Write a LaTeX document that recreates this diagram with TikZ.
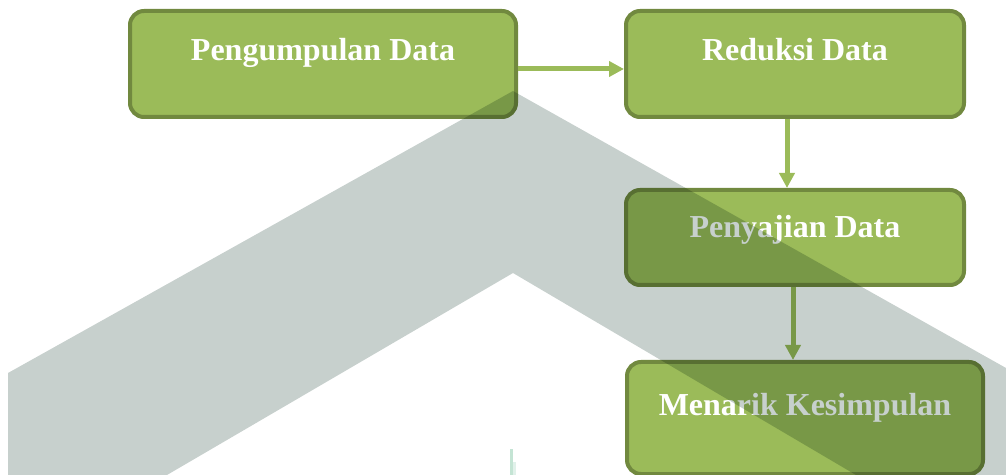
\documentclass[tikz,border=0pt]{standalone}
\usepackage{fontspec}
\setmainfont{Liberation Serif}
\usetikzlibrary{arrows.meta}
\definecolor{olive}{RGB}{155,187,89}
\definecolor{olivedark}{RGB}{113,137,63}
\definecolor{stamp}{RGB}{199,208,205}
\definecolor{stampline}{RGB}{196,228,212}
\begin{document}
\begin{tikzpicture}[x=0.5pt,y=-0.5pt,
	every node/.style={font=\bfseries\fontsize{16}{19}\selectfont,text=white},
	stagebox/.style={draw=olivedark,line width=2pt,fill=olive,rounded corners=7pt,text height=12pt,text depth=12pt},
	flow/.style={draw=olive,line width=2.5pt,-{Triangle[length=7.5pt,width=7.5pt]}}]
	\useasboundingbox (0,0) rectangle (1006,475);
	\node[stagebox,minimum width=193pt,minimum height=53pt,text depth=15pt] (kumpul) at (323,64) {Pengumpulan Data};
	\node[stagebox,minimum width=169pt,minimum height=53pt,text depth=15pt] (reduksi) at (795,64) {Reduksi Data};
	\node[stagebox,minimum width=169pt,minimum height=47.5pt] (sajian) at (795,237.5) {Penyajian Data};
	\node[stagebox,minimum width=178pt,minimum height=56pt,text depth=14.5pt] (simpul) at (805,418) {Menarik Kesimpulan};
	\draw[flow] ([yshift=-2.5pt]kumpul.east) -- ([yshift=-2.5pt]reduksi.west);
	\draw[flow] ([xshift=-4pt]reduksi.south) -- ([xshift=-4pt]sajian.north);
	\coordinate (turun) at ([xshift=-1pt]sajian.south);
	\draw[flow] (turun) -- (turun |- simpul.north);
	\begin{scope}[blend mode=multiply]
	\fill[stamp] (8,475) -- (8,373) -- (513,91) -- (1006,368) -- (1006,475) -- (856,475) -- (513,273) -- (167,475) -- cycle;
	\end{scope}
	\fill[stampline] (510,449) rectangle (513,475);
	\fill[stampline!50] (513,462) rectangle (516,475);
\end{tikzpicture}
\end{document}
